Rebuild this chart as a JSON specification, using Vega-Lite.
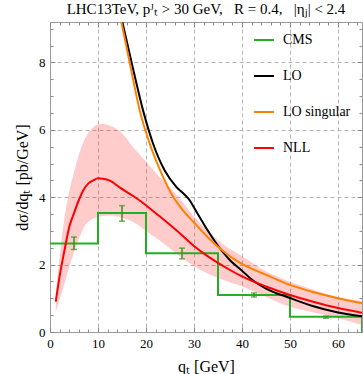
{
  "$schema": "https://vega.github.io/schema/vega-lite/v6.json",
  "width": 312,
  "height": 310,
  "autosize": {"type": "none"},
  "padding": {"left": 50, "top": 22, "right": 1, "bottom": 42},
  "background": "white",
  "title": {"text": "LHC13TeV, pᴶₜ > 30 GeV,\u00a0\u00a0\u00a0R = 0.4,\u00a0\u00a0\u00a0|ηⱼ| < 2.4", "font": "Liberation Serif", "fontSize": 15, "fontWeight": "normal", "offset": 5, "color": "black"},
  "config": {
    "view": {"stroke": "#9a9a9a", "strokeWidth": 1},
    "font": "Liberation Serif",
    "axis": {"domain": false, "labelFont": "Liberation Serif", "titleFont": "Liberation Serif", "labelColor": "black", "titleColor": "black", "tickColor": "#8a8a8a", "labelOverlap": false, "labelFlush": false},
    "legend": {"labelFont": "Liberation Serif"}
  },
  "datasets": {
    "band": [
      {"x": 1.2, "lo": 0.6, "hi": 1.15},
      {"x": 2, "lo": 0.96, "hi": 2.22},
      {"x": 3, "lo": 1.42, "hi": 3.38},
      {"x": 4, "lo": 1.92, "hi": 4.17},
      {"x": 5, "lo": 2.36, "hi": 4.73},
      {"x": 6, "lo": 2.75, "hi": 5.25},
      {"x": 7, "lo": 3.09, "hi": 5.65},
      {"x": 8, "lo": 3.27, "hi": 5.91},
      {"x": 9, "lo": 3.36, "hi": 6.08},
      {"x": 10, "lo": 3.41, "hi": 6.16},
      {"x": 11, "lo": 3.44, "hi": 6.17},
      {"x": 12.5, "lo": 3.46, "hi": 6.12},
      {"x": 14.5, "lo": 3.41, "hi": 5.97},
      {"x": 17.5, "lo": 3.25, "hi": 5.45},
      {"x": 20, "lo": 3.0, "hi": 5.05},
      {"x": 22.5, "lo": 2.75, "hi": 4.65},
      {"x": 25, "lo": 2.48, "hi": 4.28},
      {"x": 27.5, "lo": 2.2, "hi": 3.88},
      {"x": 30, "lo": 1.95, "hi": 3.42},
      {"x": 32.5, "lo": 1.76, "hi": 3.06},
      {"x": 35, "lo": 1.6, "hi": 2.72},
      {"x": 37.5, "lo": 1.47, "hi": 2.46},
      {"x": 40, "lo": 1.36, "hi": 2.25},
      {"x": 45, "lo": 1.04, "hi": 1.8},
      {"x": 50, "lo": 0.75, "hi": 1.49},
      {"x": 55, "lo": 0.58, "hi": 1.25},
      {"x": 60, "lo": 0.41, "hi": 1.04},
      {"x": 65, "lo": 0.21, "hi": 0.92}
    ],
    "cms": [
      {"series": "CMS", "x": 0, "y": 2.63},
      {"series": "CMS", "x": 10, "y": 3.53},
      {"series": "CMS", "x": 20, "y": 2.34},
      {"series": "CMS", "x": 35, "y": 1.1},
      {"series": "CMS", "x": 50, "y": 0.45},
      {"series": "CMS", "x": 65, "y": 0.0}
    ],
    "err": [
      {"x": 5, "lo": 2.45, "hi": 2.82},
      {"x": 15, "lo": 3.29, "hi": 3.75},
      {"x": 27.5, "lo": 2.17, "hi": 2.49},
      {"x": 42.5, "lo": 1.04, "hi": 1.16},
      {"x": 57.5, "lo": 0.41, "hi": 0.47}
    ],
    "curves": [
      {"series": "LO", "x": 14.4, "y": 9.6},
      {"series": "LO", "x": 15.1, "y": 9.18},
      {"series": "LO", "x": 17.0, "y": 8.0},
      {"series": "LO", "x": 19.4, "y": 6.57},
      {"series": "LO", "x": 21.5, "y": 5.58},
      {"series": "LO", "x": 23.9, "y": 4.79},
      {"series": "LO", "x": 26.35, "y": 4.3},
      {"series": "LO", "x": 28, "y": 4.08},
      {"series": "LO", "x": 29.1, "y": 3.91},
      {"series": "LO", "x": 30.3, "y": 3.62},
      {"series": "LO", "x": 31.6, "y": 3.31},
      {"series": "LO", "x": 33, "y": 2.98},
      {"series": "LO", "x": 34.7, "y": 2.62},
      {"series": "LO", "x": 37.5, "y": 2.13},
      {"series": "LO", "x": 40, "y": 1.82},
      {"series": "LO", "x": 42.1, "y": 1.55},
      {"series": "LO", "x": 45, "y": 1.29},
      {"series": "LO", "x": 50, "y": 1.01},
      {"series": "LO", "x": 54.7, "y": 0.77},
      {"series": "LO", "x": 60, "y": 0.58},
      {"series": "LO", "x": 65, "y": 0.47},
      {"series": "LO singular", "x": 14.2, "y": 9.65},
      {"series": "LO singular", "x": 14.9, "y": 9.18},
      {"series": "LO singular", "x": 16.6, "y": 8.0},
      {"series": "LO singular", "x": 18.7, "y": 6.57},
      {"series": "LO singular", "x": 20.8, "y": 5.58},
      {"series": "LO singular", "x": 23.6, "y": 4.59},
      {"series": "LO singular", "x": 25.5, "y": 4.05},
      {"series": "LO singular", "x": 27.7, "y": 3.61},
      {"series": "LO singular", "x": 30, "y": 3.25},
      {"series": "LO singular", "x": 32.6, "y": 2.85},
      {"series": "LO singular", "x": 34.7, "y": 2.57},
      {"series": "LO singular", "x": 38.5, "y": 2.15},
      {"series": "LO singular", "x": 40, "y": 2.02},
      {"series": "LO singular", "x": 45, "y": 1.7},
      {"series": "LO singular", "x": 50, "y": 1.4},
      {"series": "LO singular", "x": 55, "y": 1.18},
      {"series": "LO singular", "x": 60, "y": 1.0},
      {"series": "LO singular", "x": 65, "y": 0.85},
      {"series": "NLL", "x": 1.2, "y": 0.9},
      {"series": "NLL", "x": 2, "y": 1.65},
      {"series": "NLL", "x": 3, "y": 2.41},
      {"series": "NLL", "x": 4, "y": 3.11},
      {"series": "NLL", "x": 5, "y": 3.53},
      {"series": "NLL", "x": 6, "y": 3.91},
      {"series": "NLL", "x": 7, "y": 4.22},
      {"series": "NLL", "x": 8, "y": 4.41},
      {"series": "NLL", "x": 9, "y": 4.5},
      {"series": "NLL", "x": 10, "y": 4.56},
      {"series": "NLL", "x": 11, "y": 4.55},
      {"series": "NLL", "x": 12.5, "y": 4.49},
      {"series": "NLL", "x": 14.5, "y": 4.29},
      {"series": "NLL", "x": 17.5, "y": 4.02},
      {"series": "NLL", "x": 20, "y": 3.76},
      {"series": "NLL", "x": 22.5, "y": 3.47},
      {"series": "NLL", "x": 25, "y": 3.18},
      {"series": "NLL", "x": 27.5, "y": 2.87},
      {"series": "NLL", "x": 30, "y": 2.55},
      {"series": "NLL", "x": 32.5, "y": 2.28},
      {"series": "NLL", "x": 35, "y": 2.05},
      {"series": "NLL", "x": 37.5, "y": 1.84},
      {"series": "NLL", "x": 40, "y": 1.65},
      {"series": "NLL", "x": 45, "y": 1.35},
      {"series": "NLL", "x": 50, "y": 1.1},
      {"series": "NLL", "x": 55, "y": 0.89},
      {"series": "NLL", "x": 60, "y": 0.71},
      {"series": "NLL", "x": 65, "y": 0.57}
    ]
  },
  "resolve": {"axis": {"x": "independent", "y": "independent"}},
  "layer": [
    {
      "data": {"name": "band"},
      "mark": {"type": "area", "color": "#ff0000", "opacity": 0.2, "clip": true, "interpolate": "monotone"},
      "encoding": {
        "x": {"field": "x", "type": "quantitative", "scale": {"domain": [0, 65], "nice": false, "zero": false},
          "axis": {"orient": "bottom", "values": [0,2,4,6,8,10,12,14,16,18,20,22,24,26,28,30,32,34,36,38,40,42,44,46,48,50,52,54,56,58,60,62,64],
            "labelExpr": "datum.value % 10 === 0 ? format(datum.value, 'd') : ''",
            "tickSize": {"condition": {"test": "datum.value % 10 === 0", "value": -5}, "value": -3},
            "labelPadding": 10,
            "labelFontSize": 13,
            "grid": true, "gridDash": [4, 3], "gridColor": "#b4b4b4",
            "gridOpacity": {"condition": {"test": "datum.value % 10 === 0 && datum.value > 0", "value": 1}, "value": 0},
            "title": "qₜ [GeV]", "titleFontSize": 16, "titleFontWeight": "normal", "titlePadding": 6}},
        "y": {"field": "lo", "type": "quantitative", "scale": {"domain": [0, 9.2], "nice": false},
          "axis": {"orient": "left", "values": [0,0.5,1,1.5,2,2.5,3,3.5,4,4.5,5,5.5,6,6.5,7,7.5,8,8.5,9],
            "labelExpr": "datum.value % 2 === 0 ? format(datum.value, 'd') : ''",
            "tickSize": {"condition": {"test": "datum.value % 2 === 0", "value": -5}, "value": -3},
            "labelPadding": 10,
            "labelFontSize": 13,
            "grid": true, "gridDash": [4, 3], "gridColor": "#b4b4b4",
            "gridOpacity": {"condition": {"test": "datum.value % 2 === 0 && datum.value > 0", "value": 1}, "value": 0},
            "title": "dσ/dqₜ [pb/GeV]", "titleFontSize": 16, "titleFontWeight": "normal", "titlePadding": 8}},
        "y2": {"field": "hi"}
      }
    },
    {
      "data": {"name": "cms"},
      "mark": {"type": "line", "interpolate": "step-after", "strokeWidth": 2, "clip": true},
      "encoding": {
        "x": {"field": "x", "type": "quantitative",
          "axis": {"orient": "top", "values": [0,2,4,6,8,10,12,14,16,18,20,22,24,26,28,30,32,34,36,38,40,42,44,46,48,50,52,54,56,58,60,62,64],
            "labels": false, "grid": false, "title": null,
            "tickSize": {"condition": {"test": "datum.value % 10 === 0", "value": -5}, "value": -3}}},
        "y": {"field": "y", "type": "quantitative",
          "axis": {"orient": "right", "values": [0,0.5,1,1.5,2,2.5,3,3.5,4,4.5,5,5.5,6,6.5,7,7.5,8,8.5,9],
            "labels": false, "grid": false, "title": null,
            "tickSize": {"condition": {"test": "datum.value % 2 === 0", "value": -5}, "value": -3}}},
        "color": {"field": "series", "type": "nominal",
          "scale": {"domain": ["CMS", "LO", "LO singular", "NLL"], "range": ["#22b022", "#000000", "#ff8000", "#ff0000"]},
          "legend": {"orient": "none", "legendX": 203, "legendY": 7, "title": null, "symbolType": "stroke", "symbolSize": 400, "symbolStrokeWidth": 2, "labelFont": "Liberation Serif", "labelFontSize": 14, "labelColor": "black", "rowPadding": 18, "labelOffset": 8}}
      }
    },
    {
      "data": {"name": "err"},
      "mark": {"type": "errorbar", "ticks": {"size": 6, "thickness": 1.5, "color": "#3f8f22"}, "thickness": 1.5, "color": "#3f8f22"},
      "encoding": {
        "x": {"field": "x", "type": "quantitative", "axis": null},
        "y": {"field": "lo", "type": "quantitative", "axis": null},
        "y2": {"field": "hi"}
      }
    },
    {
      "data": {"name": "curves"},
      "mark": {"type": "line", "strokeWidth": 2, "clip": true, "interpolate": "monotone"},
      "encoding": {
        "x": {"field": "x", "type": "quantitative", "axis": null},
        "y": {"field": "y", "type": "quantitative", "axis": null},
        "color": {"field": "series", "type": "nominal",
          "legend": {"orient": "none", "legendX": 203, "legendY": 7, "title": null, "symbolType": "stroke", "symbolSize": 400, "symbolStrokeWidth": 2, "labelFont": "Liberation Serif", "labelFontSize": 14, "labelColor": "black", "rowPadding": 18, "labelOffset": 8}}
      }
    }
  ]
}
